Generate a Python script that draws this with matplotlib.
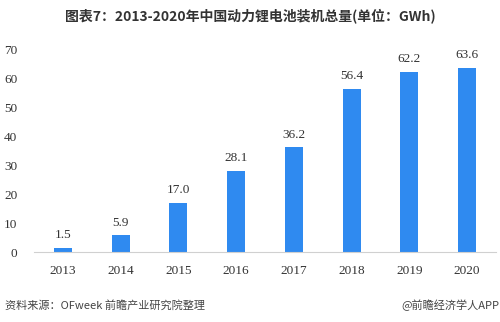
import matplotlib
matplotlib.use('Agg')
import matplotlib.pyplot as plt

plt.rcParams['font.family'] = ['Noto Sans CJK SC', 'DejaVu Sans']

years = ['2013', '2014', '2015', '2016', '2017', '2018', '2019', '2020']
capacity = [1.5, 5.9, 17.0, 28.1, 36.2, 56.4, 62.2, 63.6]
yticks = [0, 10, 20, 30, 40, 50, 60, 70]

fig = plt.figure(figsize=(5, 3.22), dpi=100)
ax = fig.add_axes([0.068, 0.217, 0.924, 0.63])

x = range(len(years))
bars = ax.bar(x, capacity, width=0.31, color='#2F8AF0')
for xi, v in zip(x, capacity):
    ax.text(xi, v + 2.2, f'{v:.1f}', ha='center', va='bottom',
            fontsize=9.5, family='Liberation Serif', color='#333333')

ax.set_xlim(-0.5, 7.5)
ax.set_ylim(0, 70)
ax.set_yticks(yticks)
ax.set_xticks(list(x))
ax.set_xticklabels(years)
for lab in ax.get_xticklabels() + ax.get_yticklabels():
    lab.set_family('Liberation Serif')
    lab.set_fontsize(9.5)
    lab.set_color('#333333')
ax.tick_params(length=0)
ax.tick_params(axis='x', pad=9)
ax.tick_params(axis='y', pad=12)
for side in ['top', 'right', 'left']:
    ax.spines[side].set_visible(False)
ax.spines['bottom'].set_color('#d0d0d0')
ax.spines['bottom'].set_linewidth(0.8)

fig.text(0.5, 0.95, '图表7：2013-2020年中国动力锂电池装机总量(单位：GWh)',
         ha='center', va='center', fontsize=10, fontweight='bold', color='#333333')
fig.text(0.01, 0.052, '资料来源：OFweek 前瞻产业研究院整理',
         ha='left', va='center', fontsize=8, color='#444444')
fig.text(0.998, 0.052, '@前瞻经济学人APP',
         ha='right', va='center', fontsize=8, color='#444444')

fig.savefig('out.png', dpi=100)
